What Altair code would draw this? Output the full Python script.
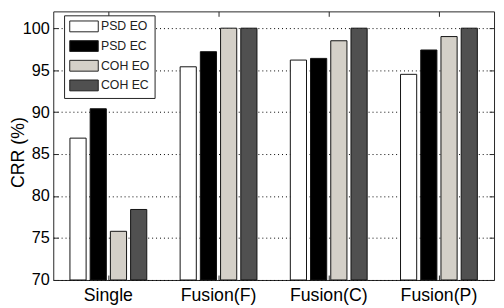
import altair as alt
import pandas as pd

groups = ["Single", "Fusion(F)", "Fusion(C)", "Fusion(P)"]
series = ["PSD EO", "PSD EC", "COH EO", "COH EC"]
psd_eo = [86.9, 95.4, 96.2, 94.5]
psd_ec = [90.4, 97.2, 96.4, 97.4]
coh_eo = [75.8, 100.0, 98.5, 99.0]
coh_ec = [78.4, 100.0, 100.0, 100.0]
colors = ["#ffffff", "#000000", "#d4d0c8", "#505050"]
y_ticks = [70, 75, 80, 85, 90, 95, 100]

rows = []
for s, vals in zip(series, [psd_eo, psd_ec, coh_eo, coh_ec]):
    for g, v in zip(groups, vals):
        rows.append({"group": g, "series": s, "crr": v})
df = pd.DataFrame(rows)

font = "Liberation Sans"
xscale = alt.Scale(domain=groups, paddingInner=0, paddingOuter=0)
yscale = alt.Scale(domain=[70, 102], nice=False, zero=False)

bars = alt.Chart(df).mark_bar(stroke="#111111", strokeWidth=1).encode(
    x=alt.X("group:N", scale=xscale, sort=groups,
            axis=alt.Axis(orient="bottom", title=None, labelAngle=0, offset=-5,
                          tickSize=5, tickColor="#262626", domain=False,
                          labelPadding=7, labelFontSize=18, labelFont=font,
                          labelColor="black", grid=False)),
    xOffset=alt.XOffset("series:N", sort=series,
                        scale=alt.Scale(domain=series, paddingInner=0.2, paddingOuter=0.825)),
    y=alt.Y("crr:Q", scale=yscale,
            axis=alt.Axis(orient="left", values=y_ticks, title="CRR (%)", offset=-5,
                          tickSize=5, tickColor="#262626", domain=False,
                          labelPadding=4, labelFontSize=16.5, labelFont=font,
                          labelColor="black", grid=True, gridDash=[1, 3],
                          gridColor="#000000", gridWidth=1,
                          titleFont=font, titleFontSize=18, titleFontWeight="normal",
                          titleColor="black", titleX=-35, titleY=143,
                          titleAlign="center", titleBaseline="alphabetic")),
    y2=alt.datum(70),
    fill=alt.Fill("series:N", sort=series,
                  scale=alt.Scale(domain=series, range=colors),
                  legend=alt.Legend(title=None, orient="none", legendX=11, legendY=4,
                                    symbolType="M-1,-1H4.27V1H-1Z", symbolSize=121,
                                    symbolStrokeColor="#222222", symbolStrokeWidth=1,
                                    symbolOpacity=1,
                                    labelFont=font, labelFontSize=12.5, labelColor="#222222",
                                    labelOffset=20, padding=5, strokeColor="#222222",
                                    fillColor="white", rowPadding=4)),
)

frame = alt.Chart(df).mark_bar(opacity=0).encode(
    x=alt.X("group:N", scale=xscale, sort=groups,
            axis=alt.Axis(orient="top", title=None, labels=False, offset=-5,
                          tickSize=5, tickColor="#262626", domain=False, grid=False)),
    y=alt.Y("crr:Q", scale=yscale,
            axis=alt.Axis(orient="right", values=y_ticks, title=None, labels=False,
                          offset=-5, tickSize=5, tickColor="#262626", domain=False,
                          grid=False)),
    y2=alt.datum(70),
)

chart = (
    alt.layer(bars, frame)
    .resolve_axis(x="independent", y="independent")
    .properties(width=448, height=273,
                padding={"left": 46, "top": 1, "right": 2, "bottom": 24},
                autosize=alt.AutoSizeParams(type="none"))
    .configure_view(stroke="#262626", strokeWidth=1)
)

chart.save("out.html", embed_options={"renderer": "svg", "actions": False})
